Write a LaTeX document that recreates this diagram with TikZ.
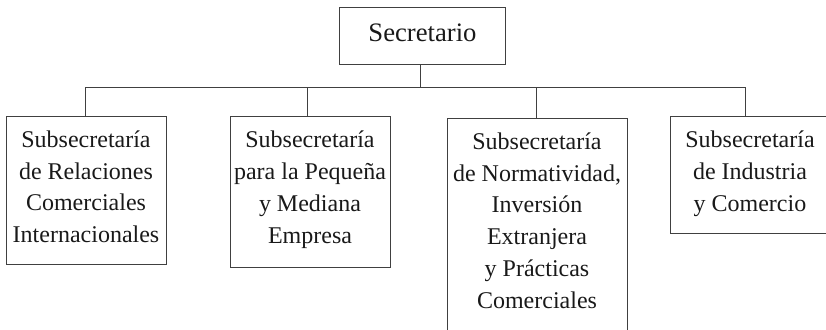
\documentclass[tikz,border=0pt]{standalone}
\usepackage{fontspec}
\setmainfont{Liberation Serif}
\begin{document}
\begin{tikzpicture}[x=0.75pt, y=-0.75pt,
        unidad/.style={draw=black!75, line width=0.75pt, anchor=north, align=center,
            inner sep=0pt, text=black!90, font=\fontsize{18pt}{23.8pt}\selectfont,
            minimum width=120pt},
        rama/.style={draw=black!75, line width=0.75pt}]
            \useasboundingbox (0,0) rectangle (826,329);
            \node[unidad, font=\fontsize{20pt}{24pt}\selectfont, text height=25.5pt,
                text depth=17.25pt, minimum width=124.5pt] (sec) at (422.5,7) {Secretario};
            \node[unidad, text height=94.65pt, text depth=16.35pt] (rel) at (86,116)
                {Subsecretaría\\de Relaciones\\Comerciales\\Internacionales};
            \node[unidad, text height=94.65pt, text depth=18.6pt] (pyme) at (310,116.3)
                {Subsecretaría\\para la Pequeña\\y Mediana\\Empresa};
            \node[unidad, text height=142.25pt, text depth=17.5pt, minimum width=135pt] (norm) at (537,118)
                {Subsecretaría\\de Normatividad,\\Inversión\\Extranjera\\y Prácticas\\Comerciales};
            \node[unidad, text height=70.85pt, text depth=16.9pt] (ind) at (750,116.3)
                {Subsecretaría\\de Industria\\y Comercio};
            \coordinate (bus) at (0,87); % height of the bus line
            \draw[rama] ([xshift=-1.5pt]sec.south) -- ([xshift=-1.5pt]sec.south |- bus);
            \draw[rama] ([xshift=-0.75pt]rel.north) -- ([xshift=-0.75pt]rel.north |- bus)
                -- ([xshift=-3.75pt]ind.north |- bus) -- ([xshift=-3.75pt]ind.north);
            \draw[rama] ([xshift=-2.25pt]pyme.north) -- ([xshift=-2.25pt]pyme.north |- bus);
            \draw[rama] ([xshift=-0.75pt]norm.north) -- ([xshift=-0.75pt]norm.north |- bus);
        \end{tikzpicture}
\end{document}
